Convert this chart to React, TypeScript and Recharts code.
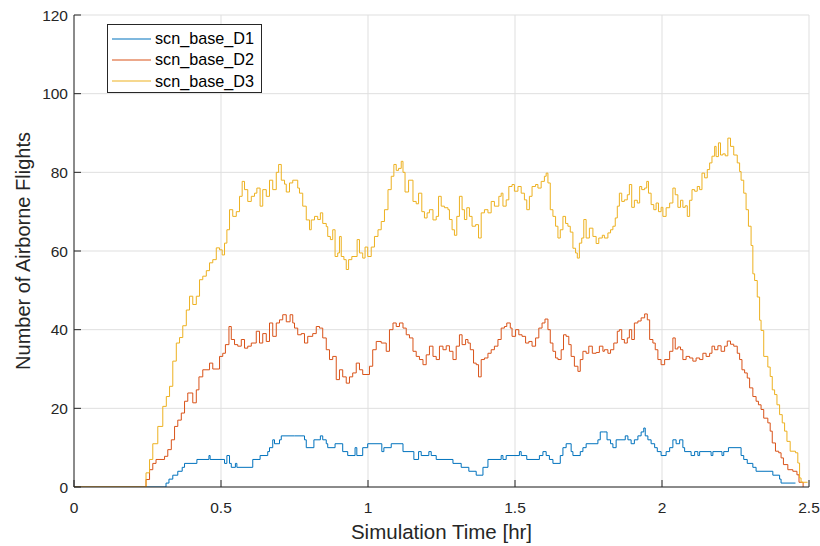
import React from 'react';
import { LineChart, Line, XAxis, YAxis, CartesianGrid, Legend } from 'recharts';

const FONT = '"Liberation Sans", Arial, Helvetica, sans-serif';
const AXIS = '#262626';
const GRID = '#dfdfdf';

const xTicks = [0, 0.5, 1, 1.5, 2, 2.5];
const yTicks = [0, 20, 40, 60, 80, 100, 120];
const seriesNames = ['scn_base_D1', 'scn_base_D2', 'scn_base_D3'];
const seriesColors = ['#0072BD', '#D95319', '#EDB120'];

// [time (hr), airborne flights]
const d1: [number, number][] = [
  [0, 0], [0.313, 0], [0.313, 1], [0.323, 2], [0.336, 3], [0.353, 4], [0.368, 5], [0.376, 6], [0.418, 7], [0.459, 8], [0.463, 7],
  [0.512, 6], [0.520, 8], [0.529, 6], [0.535, 5], [0.549, 6], [0.554, 5], [0.608, 7], [0.633, 8], [0.659, 9], [0.665, 10],
  [0.676, 12], [0.682, 11], [0.699, 12], [0.705, 13], [0.750, 13], [0.784, 12], [0.790, 10], [0.816, 12], [0.838, 13], [0.846, 12],
  [0.858, 11], [0.863, 10], [0.888, 11], [0.914, 9], [0.931, 8], [0.956, 10], [0.962, 8], [0.982, 10], [0.999, 11], [1.047, 9],
  [1.054, 10], [1.079, 11], [1.119, 9], [1.156, 7], [1.172, 9], [1.181, 8], [1.207, 9], [1.215, 8], [1.232, 7], [1.289, 6],
  [1.317, 5], [1.343, 4], [1.368, 3], [1.391, 5], [1.408, 7], [1.453, 8], [1.459, 7], [1.470, 8], [1.515, 9], [1.521, 8],
  [1.540, 7], [1.583, 8], [1.595, 9], [1.606, 8], [1.617, 7], [1.629, 6], [1.654, 8], [1.663, 10], [1.674, 11], [1.691, 9],
  [1.697, 8], [1.722, 9], [1.731, 10], [1.742, 11], [1.782, 12], [1.790, 14], [1.800, 14], [1.813, 12], [1.825, 11], [1.833, 10],
  [1.844, 12], [1.875, 13], [1.884, 12], [1.895, 11], [1.906, 12], [1.918, 13], [1.929, 14], [1.938, 15], [1.943, 13], [1.952, 12],
  [1.963, 11], [1.975, 10], [1.984, 9], [1.997, 8], [2.014, 9], [2.026, 10], [2.037, 12], [2.048, 11], [2.060, 12], [2.071, 10],
  [2.077, 9], [2.099, 8], [2.111, 9], [2.122, 8], [2.128, 9], [2.167, 8], [2.173, 9], [2.204, 8], [2.210, 9], [2.226, 10],
  [2.269, 8], [2.278, 7], [2.290, 6], [2.309, 5], [2.320, 4], [2.377, 3], [2.400, 2], [2.405, 1], [2.454, 1],
];

const d2: [number, number][] = [
  [0, 0], [0.240, 0], [0.245, 1.9], [0.257, 4.4], [0.268, 6], [0.279, 7], [0.308, 7.8], [0.319, 9.5], [0.331, 12], [0.342, 15.4],
  [0.353, 17], [0.365, 18.8], [0.376, 21.8], [0.387, 23.9], [0.404, 21.4], [0.416, 24.7], [0.425, 28], [0.438, 29.8], [0.461, 31.5],
  [0.472, 30], [0.495, 33.2], [0.506, 34], [0.515, 36.2], [0.527, 40.8], [0.535, 37.5], [0.546, 36.2], [0.557, 35.8], [0.569, 37.5],
  [0.580, 35.3], [0.591, 35.8], [0.603, 36.6], [0.620, 39.6], [0.631, 36.6], [0.642, 39], [0.654, 37], [0.665, 41.7], [0.676, 38.3],
  [0.688, 41.7], [0.699, 42.5], [0.710, 43.8], [0.722, 42], [0.735, 43.8], [0.744, 41.7],
  [0.750, 40.4], [0.761, 38.7], [0.773, 39], [0.784, 36.6], [0.795, 38.3], [0.812, 39], [0.824, 40.8], [0.835, 40.4], [0.846, 37.9],
  [0.858, 34.9], [0.869, 32.4], [0.880, 33.2], [0.892, 27.3], [0.903, 29.8], [0.914, 28], [0.926, 26.4], [0.937, 28], [0.948, 29],
  [0.960, 31.5], [0.971, 29.8], [0.982, 28.6], [1.005, 30.7], [1.016, 34.9], [1.028, 37], [1.045, 36.6], [1.062, 34.5], [1.073, 40],
  [1.085, 41.7], [1.096, 40.8], [1.107, 41.7], [1.119, 40.4], [1.130, 38.7], [1.141, 37.9], [1.153, 34.5], [1.164, 33.2], [1.175, 32.4],
  [1.187, 31.1], [1.198, 33.6], [1.209, 35.8], [1.221, 33.2], [1.232, 32.4], [1.243, 35.8], [1.255, 34.9], [1.266, 35.9], [1.277, 34.5],
  [1.289, 32.4], [1.300, 35.8], [1.311, 38.7], [1.320, 36.2], [1.332, 37.5], [1.340, 36.6], [1.348, 34.9], [1.359, 31.5], [1.368, 31.1],
  [1.376, 28], [1.385, 32.4], [1.396, 32.8], [1.408, 34], [1.419, 34.9], [1.430, 35.8], [1.442, 37.5], [1.453, 40.4], [1.464, 40.8],
  [1.472, 41.7], [1.484, 40.4], [1.490, 38.3], [1.502, 40], [1.513, 38.7], [1.524, 38.3], [1.536, 36.6], [1.547, 37], [1.558, 35.8],
  [1.570, 37.9], [1.581, 40.4], [1.592, 41.7], [1.602, 42.7], [1.612, 40], [1.620, 36.6], [1.629, 34.5], [1.638, 32.8], [1.646, 32.4],
  [1.657, 34.9], [1.665, 38.7], [1.674, 38.3], [1.683, 36.2], [1.691, 33.2], [1.702, 30.7], [1.714, 29.4], [1.722, 32.4], [1.731, 34.5],
  [1.742, 34], [1.751, 35.8], [1.763, 34], [1.776, 34.2], [1.787, 35.8], [1.799, 34.5],
  [1.804, 34.9], [1.816, 34], [1.825, 34.9], [1.836, 36.6], [1.848, 39.6], [1.855, 40], [1.863, 37.5], [1.872, 36.6], [1.882, 37.9],
  [1.889, 40], [1.897, 37.5], [1.906, 41.7], [1.918, 42.2], [1.929, 43], [1.941, 44], [1.950, 42.5], [1.958, 37.5], [1.969, 36.6],
  [1.977, 34.9], [1.986, 32.4], [1.997, 31.1], [2.009, 32.4], [2.026, 34.5], [2.037, 37.9], [2.045, 35.1], [2.054, 35.6], [2.063, 34.9],
  [2.071, 32.4], [2.082, 33.2], [2.094, 32.8], [2.105, 32], [2.116, 32.8], [2.128, 32.4], [2.139, 34], [2.150, 33.2], [2.162, 34],
  [2.170, 35.8], [2.179, 34.9], [2.190, 35.9], [2.201, 34.5], [2.213, 35.8], [2.222, 37.1], [2.233, 36.3], [2.244, 35.8], [2.256, 34],
  [2.264, 32.4], [2.272, 29.8], [2.281, 29], [2.290, 27.7], [2.298, 25.2], [2.309, 23], [2.320, 21.8], [2.328, 20.9], [2.337, 19.7],
  [2.346, 17.5], [2.360, 16.3], [2.368, 14.2], [2.375, 11.2], [2.386, 9.1], [2.397, 8.7], [2.405, 7.4], [2.413, 5.7], [2.428, 4.4],
  [2.445, 4], [2.459, 3.1], [2.466, 1.2], [2.480, 0],
];

const d3: [number, number][] = [
  [0, 0], [0.240, 0], [0.245, 3.6], [0.257, 7], [0.268, 11], [0.285, 15.4], [0.302, 20.5], [0.314, 23], [0.325, 25.6], [0.336, 32],
  [0.348, 36.6], [0.359, 38], [0.370, 41], [0.382, 45], [0.393, 48.5], [0.404, 46.4], [0.416, 48.5], [0.427, 52.7], [0.438, 53.6],
  [0.450, 55], [0.461, 57], [0.472, 57.8], [0.484, 60.8], [0.495, 60.3], [0.504, 59], [0.512, 62], [0.520, 65.4], [0.529, 70.5],
  [0.540, 68.8], [0.552, 70], [0.563, 73.9], [0.572, 77.7], [0.580, 75.6], [0.591, 72.6], [0.603, 73.9], [0.614, 74.7], [0.622, 76],
  [0.633, 71.4], [0.642, 75.6], [0.654, 73.9], [0.665, 78], [0.676, 75.6], [0.688, 80], [0.696, 82], [0.705, 78], [0.716, 77],
  [0.722, 75], [0.733, 77.3], [0.744, 78],
  [0.761, 76], [0.767, 74.7], [0.778, 71.4], [0.790, 67.9], [0.801, 65.4], [0.807, 67.9], [0.818, 68.8], [0.829, 68], [0.838, 69.7],
  [0.846, 67], [0.858, 66.2], [0.863, 63.7], [0.872, 62.9], [0.880, 65.4], [0.888, 58.6], [0.897, 59.5], [0.903, 63.7], [0.909, 58.6],
  [0.918, 57.8], [0.926, 55.3], [0.934, 57.8], [0.945, 58.6], [0.963, 62.9], [0.971, 59.5], [0.982, 58.2], [0.990, 61], [0.999, 58.6],
  [1.011, 61], [1.022, 63.7], [1.034, 65.4], [1.045, 67.5], [1.056, 70.5], [1.068, 75.6], [1.079, 79], [1.088, 82], [1.096, 80.5],
  [1.104, 81], [1.113, 82.8], [1.119, 80], [1.126, 75], [1.138, 78], [1.153, 72.6], [1.164, 72], [1.172, 74.7], [1.183, 70],
  [1.192, 68.4], [1.201, 69.7], [1.209, 70.5], [1.221, 67.9], [1.232, 68.8], [1.240, 73.9], [1.249, 71.4], [1.260, 71], [1.272, 70.5],
  [1.277, 68], [1.286, 65.4], [1.294, 64], [1.302, 68.8], [1.311, 73.9], [1.320, 70.5], [1.328, 68], [1.336, 71], [1.345, 68.8],
  [1.354, 66.3], [1.366, 66.7], [1.376, 63.3], [1.385, 69.7], [1.396, 70.5], [1.408, 69.7], [1.419, 72.6], [1.430, 71.4], [1.445, 73.9],
  [1.453, 74.7], [1.459, 71.4], [1.470, 73], [1.479, 76.4], [1.490, 76.9], [1.498, 75.2], [1.510, 76.4], [1.521, 74.7], [1.532, 73],
  [1.540, 70.5], [1.549, 73.9], [1.558, 76.4], [1.570, 76.9], [1.578, 76], [1.589, 77.7], [1.600, 79], [1.606, 79.8], [1.612, 77.3],
  [1.620, 70.5], [1.629, 68.8], [1.638, 66.3], [1.646, 63.3], [1.654, 65.4], [1.663, 68.8], [1.672, 67], [1.680, 66.3], [1.688, 64.8],
  [1.697, 60.7], [1.706, 59.5], [1.712, 58.2], [1.719, 62], [1.727, 63.3], [1.734, 68], [1.742, 63.3], [1.753, 65.8], [1.765, 63.7],
  [1.776, 61.9], [1.785, 63.3], [1.797, 64],
  [1.804, 63.3], [1.816, 64.6], [1.825, 65.4], [1.833, 66.3], [1.841, 68.4], [1.848, 71.4], [1.855, 74.7], [1.863, 72.6], [1.872, 73],
  [1.882, 74.3], [1.889, 76.9], [1.897, 71.1], [1.906, 72.9], [1.916, 72.2], [1.924, 76.4], [1.931, 75.6], [1.941, 76], [1.948, 77.7],
  [1.954, 74.7], [1.963, 71.8], [1.972, 70.5], [1.980, 72.2], [1.988, 70], [1.997, 71.1], [2.003, 68.8], [2.014, 71], [2.026, 72.2],
  [2.037, 76], [2.045, 74.3], [2.054, 71.1], [2.063, 72.9], [2.071, 71.1], [2.079, 71.5], [2.086, 68.8], [2.094, 72.9], [2.102, 75.6],
  [2.111, 75.2], [2.120, 76.4], [2.128, 75.6], [2.136, 79.8], [2.145, 78.6], [2.154, 80.7], [2.162, 82.4], [2.170, 84.1], [2.179, 86.6],
  [2.184, 84], [2.192, 87.5], [2.199, 84.4], [2.207, 84.7], [2.215, 84.2], [2.224, 88.7], [2.233, 86.6], [2.244, 84.4], [2.256, 82.4],
  [2.264, 80.2], [2.269, 78], [2.278, 74.7], [2.286, 70.5], [2.294, 66.3], [2.303, 61.4], [2.309, 54.2], [2.315, 52.5], [2.324, 48.3],
  [2.332, 42.4], [2.337, 39.8], [2.346, 33.2], [2.360, 30.5], [2.368, 28.1], [2.375, 24.7], [2.383, 23.5], [2.391, 20.9], [2.400, 18.4],
  [2.409, 16.3], [2.417, 14.2], [2.425, 11.6], [2.436, 9.1], [2.454, 8.7], [2.462, 6.1], [2.468, 2.3], [2.473, 1.2], [2.495, 1.2],
];

const seriesData = [d1, d2, d3];
const toRows = (pairs: [number, number][]) => pairs.map(([t, v]) => ({ t, v }));

const LegendBox = (props: any) => {
  const payload = (props && props.payload) || [];
  const items = payload.length
    ? payload.map((p: any) => ({ name: p.value, color: p.color }))
    : seriesNames.map((n, i) => ({ name: n, color: seriesColors[i] }));
  return (
    <div
      style={{
        boxSizing: 'border-box',
        width: 155,
        height: 69,
        border: '1px solid #262626',
        background: '#fff',
        paddingTop: 3,
        fontFamily: FONT,
        fontSize: 16.2,
        color: '#000',
      }}
    >
      {items.map((it: any) => (
        <div key={it.name} style={{ display: 'flex', alignItems: 'center', height: 21.3, whiteSpace: 'nowrap' }}>
          <svg width={47} height={4} style={{ display: 'block' }}>
            <line x1={4} x2={43} y1={2} y2={2} stroke={it.color} strokeWidth={1.2} />
          </svg>
          <span style={{ lineHeight: '21px' }}>{it.name}</span>
        </div>
      ))}
    </div>
  );
};

const XLabel = (props: any) => {
  const vb = props.viewBox || { x: 74, y: 487, width: 735, height: 59 };
  return (
    <text x={vb.x + vb.width / 2} y={vb.y + 51.5} textAnchor="middle" fill={AXIS} fontSize={20.5} fontFamily={FONT}>
      Simulation Time [hr]
    </text>
  );
};

const YLabel = (props: any) => {
  const vb = props.viewBox || { x: 0, y: 15, width: 74, height: 472 };
  const cx = vb.x + 23;
  const cy = vb.y + vb.height / 2;
  return (
    <text
      x={cx}
      y={cy}
      transform={`rotate(-90, ${cx}, ${cy})`}
      textAnchor="middle"
      dominantBaseline="central"
      fill={AXIS}
      fontSize={20}
      fontFamily={FONT}
    >
      Number of Airborne Flights
    </text>
  );
};

export default function App() {
  return (
    <div style={{ position: 'absolute', left: 0, top: 0, width: 820, height: 546, background: '#fff' }}>
      <LineChart
        width={820}
        height={546}
        margin={{ top: 15, right: 11, bottom: 0, left: 0 }}
        style={{ fontFamily: FONT }}
      >
        <CartesianGrid stroke={GRID} strokeWidth={1} />
        <XAxis
          dataKey="t"
          type="number"
          domain={[0, 2.5]}
          ticks={xTicks}
          allowDataOverflow
          height={59}
          stroke={AXIS}
          tickSize={-7}
          tickMargin={22}
          tick={{ fill: AXIS, fontSize: 15.5, fontFamily: FONT }}
          label={{ content: XLabel }}
        />
        <YAxis
          type="number"
          domain={[0, 120]}
          ticks={yTicks}
          allowDataOverflow
          width={74}
          stroke={AXIS}
          tickSize={-7}
          tickMargin={13}
          tick={{ fill: AXIS, fontSize: 15.5, fontFamily: FONT }}
          label={{ content: YLabel }}
        />
        <Legend
          layout="vertical"
          align="center"
          verticalAlign="middle"
          content={LegendBox}
          wrapperStyle={{ left: 107, top: 24, width: 155, height: 69 }}
        />
        {seriesData.map((d, i) => (
          <Line
            key={seriesNames[i]}
            data={toRows(d)}
            dataKey="v"
            name={seriesNames[i]}
            type="stepAfter"
            stroke={seriesColors[i]}
            strokeWidth={1}
            dot={false}
            activeDot={false}
            isAnimationActive={false}
          />
        ))}
      </LineChart>
    </div>
  );
}
